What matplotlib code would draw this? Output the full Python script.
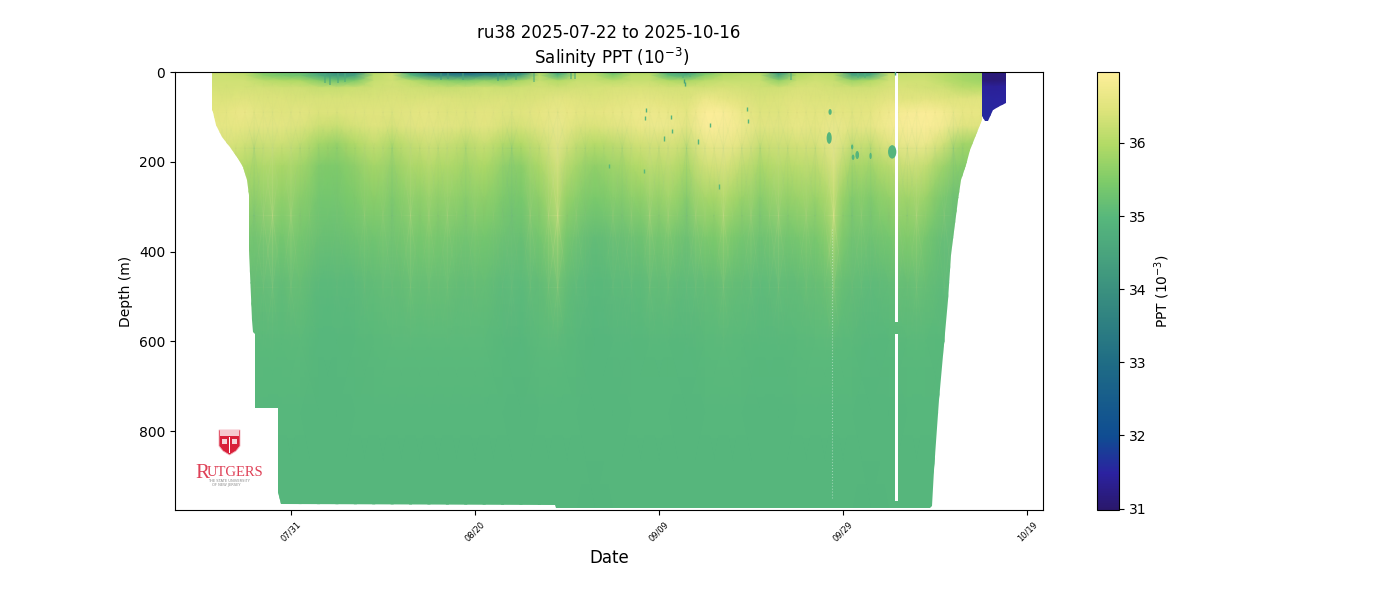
import numpy as np
from matplotlib import pyplot as plt
from matplotlib.colors import LinearSegmentedColormap, Normalize
from matplotlib.patches import Ellipse, Polygon, Rectangle
from matplotlib.path import Path

title = " Salinity PPT ($10^{-3}$)"
title_top = "ru38 2025-07-22 to 2025-10-16"

# time is days after 07/31, depth in metres
tick_days = [0, 20, 40, 60, 80]
tick_labels = ['07/31', '08/20', '09/09', '09/29', '10/19']

days = [-9, -7, -5, -3, -1, 1, 3, 5, 7, 9, 11, 13, 15, 17, 19, 21, 23, 25, 27, 29, 31,
        33, 35, 37, 39, 41, 43, 45, 47, 49, 51, 53, 55, 57, 59, 61, 63, 65, 67, 69, 71, 73, 75.5]
depths = [0, 8, 20, 35, 60, 90, 120, 160, 210, 280, 370, 470, 600, 760, 975]

# one row per depth, one value per entry of days
salinity = [
    [36.2, 36.2, 36.1, 35.5, 35.3, 35.2, 34.6, 34.0, 34.2, 36.0, 36.3, 34.5, 33.4, 33.0, 32.8, 33.2, 33.3, 33.8, 36.0, 34.6, 36.0,
     36.0, 35.2, 36.0, 36.0, 34.8, 34.5, 35.3, 35.9, 36.0, 36.0, 34.3, 35.9, 36.1, 36.0, 34.3, 34.5, 36.1, 36.2, 36.2, 36.0, 35.8, 35.7],
    [36.25, 36.25, 36.15, 35.6, 35.4, 35.3, 34.7, 34.2, 34.4, 36.1, 36.3, 35.0, 34.0, 33.7, 33.6, 33.9, 34.0, 34.4, 36.1, 34.9, 36.1,
     36.1, 35.5, 36.1, 36.1, 35.1, 34.8, 35.6, 36.0, 36.1, 36.1, 34.5, 36.0, 36.2, 36.1, 34.5, 34.7, 36.2, 36.2, 36.2, 36.05, 35.85, 35.75],
    [36.3, 36.3, 36.3, 36.1, 36.0, 35.95, 35.6, 35.3, 35.5, 36.2, 36.3, 36.1, 35.8, 35.6, 35.5, 35.7, 35.6, 35.9, 36.2, 36.0, 36.2,
     36.2, 36.1, 36.2, 36.2, 36.0, 35.9, 36.1, 36.2, 36.2, 36.2, 35.7, 36.2, 36.3, 36.2, 35.8, 36.0, 36.3, 36.3, 36.3, 36.1, 35.9, 35.8],
    [36.35, 36.35, 36.35, 36.35, 36.3, 36.3, 36.2, 36.2, 36.25, 36.3, 36.35, 36.3, 36.25, 36.2, 36.25, 36.3, 36.25, 36.3, 36.35, 36.3, 36.35,
     36.35, 36.4, 36.4, 36.4, 36.35, 36.35, 36.35, 36.4, 36.35, 36.3, 36.3, 36.4, 36.4, 36.35, 36.3, 36.3, 36.4, 36.4, 36.35, 36.3, 36.1, 36.05],
    [36.45, 36.45, 36.5, 36.45, 36.45, 36.4, 36.4, 36.4, 36.4, 36.4, 36.45, 36.4, 36.45, 36.45, 36.4, 36.4, 36.45, 36.4, 36.45, 36.55, 36.5,
     36.45, 36.5, 36.55, 36.55, 36.5, 36.45, 36.7, 36.6, 36.5, 36.4, 36.45, 36.5, 36.45, 36.45, 36.45, 36.45, 36.55, 36.5, 36.55, 36.5, 36.5, 36.5],
    [36.5, 36.6, 36.7, 36.55, 36.5, 36.55, 36.45, 36.45, 36.5, 36.5, 36.5, 36.55, 36.6, 36.5, 36.5, 36.55, 36.5, 36.5, 36.6, 36.7, 36.6,
     36.55, 36.65, 36.7, 36.75, 36.7, 36.6, 36.95, 36.95, 36.7, 36.5, 36.5, 36.6, 36.55, 36.6, 36.55, 36.6, 36.8, 36.9, 36.95, 36.85, 36.65, 36.6],
    [36.6, 36.6, 36.6, 36.6, 36.55, 36.5, 36.3, 36.25, 36.4, 36.5, 36.45, 36.55, 36.6, 36.55, 36.5, 36.55, 36.45, 36.4, 36.55, 36.75, 36.5,
     36.45, 36.55, 36.65, 36.75, 36.75, 36.6, 36.95, 36.97, 36.8, 36.55, 36.55, 36.65, 36.6, 36.75, 36.6, 36.65, 36.85, 36.97, 36.95, 36.85, 36.55, 36.5],
    [36.5, 36.45, 36.35, 36.3, 36.3, 36.2, 35.85, 35.75, 36.0, 36.2, 36.05, 36.2, 36.35, 36.25, 36.15, 36.25, 36.05, 36.0, 36.25, 36.6, 36.2,
     36.05, 36.15, 36.3, 36.4, 36.45, 36.3, 36.7, 36.8, 36.6, 36.3, 36.35, 36.4, 36.45, 36.7, 36.3, 36.25, 36.55, 36.8, 36.75, 36.35, 35.85, 35.8],
    [36.2, 36.2, 36.0, 35.95, 35.9, 35.85, 35.5, 35.45, 35.65, 35.85, 35.75, 35.9, 36.05, 35.95, 35.85, 35.95, 35.7, 35.6, 35.95, 36.3, 35.85,
     35.65, 35.8, 35.95, 36.1, 36.15, 35.95, 36.35, 36.45, 36.2, 35.95, 36.05, 36.1, 36.15, 36.4, 35.9, 35.85, 36.1, 36.35, 36.2, 35.75, 35.55, 35.5],
    [35.9, 35.9, 35.75, 35.65, 35.65, 35.6, 35.35, 35.35, 35.45, 35.6, 35.5, 35.6, 35.7, 35.65, 35.6, 35.65, 35.45, 35.4, 35.65, 35.9, 35.55,
     35.42, 35.5, 35.6, 35.7, 35.8, 35.6, 35.85, 35.95, 35.8, 35.6, 35.7, 35.75, 35.8, 35.95, 35.55, 35.5, 35.7, 35.85, 35.75, 35.35, 35.25, 35.25],
    [35.5, 35.45, 35.35, 35.3, 35.35, 35.35, 35.2, 35.18, 35.25, 35.3, 35.3, 35.35, 35.4, 35.35, 35.3, 35.35, 35.22, 35.18, 35.35, 35.5, 35.22,
     35.12, 35.15, 35.2, 35.3, 35.35, 35.22, 35.4, 35.45, 35.35, 35.25, 35.3, 35.35, 35.4, 35.6, 35.3, 35.25, 35.35, 35.5, 35.35, 35.1, 35.1, 35.1],
    [35.2, 35.2, 35.15, 35.1, 35.1, 35.15, 35.02, 35.02, 35.05, 35.1, 35.1, 35.15, 35.15, 35.15, 35.1, 35.15, 35.05, 35.05, 35.12, 35.2, 35.05,
     35.0, 35.02, 35.04, 35.08, 35.1, 35.03, 35.12, 35.15, 35.1, 35.05, 35.08, 35.1, 35.15, 35.22, 35.1, 35.05, 35.1, 35.15, 35.15, 35.05, 35.05, 35.05],
    [35.05, 35.05, 35.05, 35.02, 35.02, 35.05, 34.98, 34.97, 35.0, 35.02, 35.03, 35.05, 35.05, 35.04, 35.03, 35.04, 35.0, 34.98, 35.03, 35.05, 35.0,
     34.95, 34.96, 34.98, 35.0, 35.0, 34.98, 35.02, 35.03, 35.02, 35.0, 35.0, 35.02, 35.03, 35.05, 35.02, 34.98, 35.0, 35.02, 35.02, 35.0, 35.0, 35.0],
    [34.98, 34.98, 34.98, 34.97, 34.97, 34.98, 34.95, 34.95, 34.96, 34.98, 34.98, 34.98, 34.98, 34.98, 34.97, 34.97, 34.96, 34.95, 34.97, 34.98, 34.96,
     34.94, 34.95, 34.96, 34.96, 34.96, 34.95, 34.97, 34.97, 34.96, 34.95, 34.95, 34.96, 34.97, 34.97, 34.96, 34.94, 34.95, 34.96, 34.96, 34.96, 34.96, 34.96],
    [34.95, 34.95, 34.95, 34.95, 34.95, 34.95, 34.94, 34.94, 34.94, 34.95, 34.95, 34.95, 34.95, 34.95, 34.95, 34.95, 34.94, 34.94, 34.94, 34.95, 34.94,
     34.93, 34.94, 34.94, 34.94, 34.94, 34.94, 34.94, 34.94, 34.94, 34.94, 34.94, 34.94, 34.94, 34.94, 34.94, 34.93, 34.94, 34.94, 34.94, 34.94, 34.94, 34.94],
]

# outline of the sampled water, down the left side, along the bottom, up the right side
edge_days = [-8.6, -8.6, -8.48, -8.15, -7.5, -6.63, -5.87, -5.2, -4.78, -4.57, -4.51, -4.24, -4.13, -3.88, -3.88, -1.41, -1.41, -1.09,
             28.7, 28.8, 69.5, 69.73, 69.9, 70.43, 71.38, 71.74, 72.47, 72.83, 73.37, 73.8, 74.46, 75.1, 75.1]
edge_depths = [0, 85, 89, 118, 145, 167, 189, 212, 241, 274, 397, 553, 579, 584, 749, 749, 936, 963,
               964, 972, 972, 966, 887, 731, 508, 408, 285, 241, 207, 174, 140, 107, 0]

# the gap in the record near 10/05
gap_days = [65.65, 65.93]
gap_upper_end = 557
gap_lower_depths = [584, 956]

# last profiles, much fresher
late_days = [75.1, 76.4, 77.7]
late_depths = [0, 20, 32, 60, 110]
late_salinity = [
    [31.15, 31.1, 31.15],
    [31.15, 31.1, 31.15],
    [31.45, 31.4, 31.45],
    [31.55, 31.5, 31.5],
    [31.6, 31.55, 31.5],
]
late_edge_days = [75.1, 75.1, 75.45, 75.8, 76.35, 77.1, 77.7, 77.7]
late_edge_depths = [0, 98, 109, 109, 85, 76, 69, 0]

# isolated readings that stand out from the field
blob_days = [58.6, 58.5, 65.35, 61.1, 61.55, 61.0, 63.0]
blob_depths = [89, 147, 178, 190, 185, 167, 187]
blob_widths = [0.35, 0.55, 0.9, 0.3, 0.4, 0.25, 0.25]
blob_heights = [13, 26, 30, 12, 18, 11, 14]
speck_days = [38.6, 38.5, 41.3, 41.4, 42.7, 42.8, 45.6, 49.6, 49.7, 65.7, 44.2, 40.5, 38.4, 46.5, 34.6]
speck_depths = [84, 103, 100, 131, 20, 27, 118, 82, 109, 2, 155, 148, 220, 255, 210]
speck_values = [34.8, 34.9, 34.9, 34.9, 34.5, 34.6, 34.9, 34.9, 34.9, 34.3, 34.9, 34.9, 35.0, 35.0, 35.0]

# fresh teeth hanging from the surface layer
tooth_days = [3.7, 4.3, 5.1, 5.9, 16.3, 17.1, 18.7, 22.5, 23.4, 24.5, 26.4, 30.4, 30.9, 42.6, 43.4, 54.4, 61.6, 62.4]
tooth_depths = [24, 28, 25, 22, 18, 16, 18, 20, 18, 18, 22, 16, 16, 14, 12, 18, 14, 14]
tooth_values = [34.6, 34.4, 34.6, 34.7, 34.2, 34.3, 34.4, 34.3, 34.5, 34.4, 34.7, 34.6, 34.6, 34.8, 34.9, 34.7, 34.8, 34.8]

# daily streaks on top of the field: + saltier, - fresher
streak_days = list(range(-8, 76))
streak_strength = [0.2, 0.3, -0.1, 0.2, -0.5, 0.4, 0.6, 0.1,
                   0.5, -0.3, 0.2, -0.2, -0.1, -0.3, 0.1, -0.2, 0.3, -0.1,
                   0.3, -0.5, 0.2, 0.5, -0.2, 0.4, -0.3, 0.4, 0.2, -0.4,
                   0.3, -0.1, 0.2, -0.3, -0.6, -0.1, 0.4, -0.2, 0.5, 0.8,
                   -0.2, 0.3, -0.3, 0.1, -0.2, 0.3, -0.4, 0.3, -0.1, 0.5,
                   -0.3, 0.4, 0.2, -0.5, 0.4, 0.3, -0.2, 0.6, 0.2, -0.3,
                   0.4, -0.4, 0.3, 0.5, -0.3, 0.2, 0.4, -0.3, 0.3, 0.9,
                   -0.2, -0.5, 0.3, -0.4, 0.2, -0.2, 0.4, -0.3, 0.5, 0.2,
                   -0.2, 0.3, -0.6, -0.3, 0.2, 0.1]
streak_depths = [25, 90, 170, 320, 480, 640]
streak_weight = [0.0, 0.15, 0.7, 0.9, 0.4, 0.0]

haline_colors = ['#2a186c', '#2b22a0', '#0f4d92', '#1f6c85', '#3a907f', '#57b77c', '#7dcb69', '#b1da66', '#dfe47c', '#fdee99']
haline_stops = [0, 0.083, 0.167, 0.334, 0.5, 0.668, 0.75, 0.834, 0.917, 1]
haline = LinearSegmentedColormap.from_list('haline', list(zip(haline_stops, haline_colors)))
vmin = 30.98
vmax = 36.97
norm = Normalize(vmin, vmax)

# see-through map for the streaks, nothing drawn at zero
streak_cmap = LinearSegmentedColormap.from_list('streak', [(0.31, 0.69, 0.49, 0.45), (0.6, 0.8, 0.5, 0.0), (0.99, 0.93, 0.6, 0.45)])

fig = plt.figure(figsize=(14, 6), dpi=100)
ax = fig.add_axes([0.125, 0.15, 0.62, 0.73])

mesh = ax.pcolormesh(days, depths, salinity, cmap=haline, norm=norm, shading='gouraud')

# field outline with a slit for the upper gap, and a hole for the lower one
outline = list(zip(edge_days, edge_depths))
outline += [(gap_days[1], 0), (gap_days[1], gap_upper_end), (gap_days[0], gap_upper_end), (gap_days[0], 0)]
outline.append(outline[0])
hole = [(gap_days[0], gap_lower_depths[0]), (gap_days[1], gap_lower_depths[0]),
        (gap_days[1], gap_lower_depths[1]), (gap_days[0], gap_lower_depths[1]), (gap_days[0], gap_lower_depths[0])]
field_path = Path.make_compound_path(Path(outline, closed=True), Path(hole, closed=True))

ax.set_xlim(-12.6, 81.74)
ax.set_ylim(976, 0)
mesh.set_clip_path(field_path, ax.transData)

streaks = np.outer(streak_weight, streak_strength)
streak_mesh = ax.pcolormesh(streak_days, streak_depths, streaks, cmap=streak_cmap, vmin=-1, vmax=1, shading='gouraud', zorder=2)
streak_mesh.set_clip_path(field_path, ax.transData)

ax.vlines(tooth_days, 0, tooth_depths, colors=haline(norm(tooth_values)), lw=1.3, alpha=0.6, zorder=2)

late_mesh = ax.pcolormesh(late_days, late_depths, late_salinity, cmap=haline, norm=norm, shading='gouraud')
late_mesh.set_clip_path(Path(list(zip(late_edge_days, late_edge_depths)) + [(late_edge_days[0], late_edge_depths[0])], closed=True), ax.transData)

for d, z, w, h in zip(blob_days, blob_depths, blob_widths, blob_heights):
    ax.add_patch(Ellipse((d, z), w, h, fc=haline(norm(34.92)), ec='none', zorder=3))
ax.scatter(speck_days, speck_depths, s=10, marker='|', c=speck_values, cmap=haline, norm=norm, linewidths=1, zorder=3)

# faint broken line where a profile is missing
ax.plot([58.8, 58.8], [350, 950], color='white', lw=0.8, ls=':', alpha=0.4, zorder=3)

ax.set_xticks(tick_days)
ax.set_xticklabels(tick_labels, rotation=45, fontsize=6)
ax.set_xlabel('Date', fontsize=12)
ax.set_ylabel('Depth (m)')
ax.set_title(title_top + "\n" + title, fontsize=12)

cax = fig.add_axes([1097 / 1400, 0.15, 22 / 1400, 0.73])
cbar = fig.colorbar(mesh, cax=cax)
cbar.set_ticks([31, 32, 33, 34, 35, 36])
cbar.set_label('PPT ($10^{-3}$)', labelpad=4)

# Rutgers logo, drawn in pixel coordinates of the figure
logo = fig.add_axes([0, 0, 1, 1], facecolor='none')
logo.set_xlim(0, 1400)
logo.set_ylim(600, 0)
logo.axis('off')
red = '#d9203a'
logo.add_patch(Polygon([(219, 430), (240, 430), (240, 446), (236, 451), (229.5, 455), (223, 451), (219, 446)], closed=True, fc=red, ec='#f2b6bf', lw=0.6))
logo.add_patch(Rectangle((220, 430), 19, 6, fc='#f6c9cf', ec='none'))
logo.add_patch(Rectangle((229, 437), 1, 16, fc='white', ec='none'))
logo.add_patch(Rectangle((222, 439), 5, 5, fc='#f6d5da', ec='none'))
logo.add_patch(Rectangle((232, 439), 5, 5, fc='#f6d5da', ec='none'))
logo.text(195.5, 478, 'R', family='Liberation Serif', fontsize=15, color=red, ha='left', va='baseline', alpha=0.85)
logo.text(207, 476.5, 'UTGERS', family='Liberation Serif', fontsize=10.5, color=red, ha='left', va='baseline', alpha=0.85)
logo.text(229, 481, 'THE STATE UNIVERSITY', fontsize=2.6, color='#888888', ha='center', va='center')
logo.text(226, 485, 'OF NEW JERSEY', fontsize=2.6, color='#888888', ha='center', va='center')

plt.savefig('out.png', dpi=100)
